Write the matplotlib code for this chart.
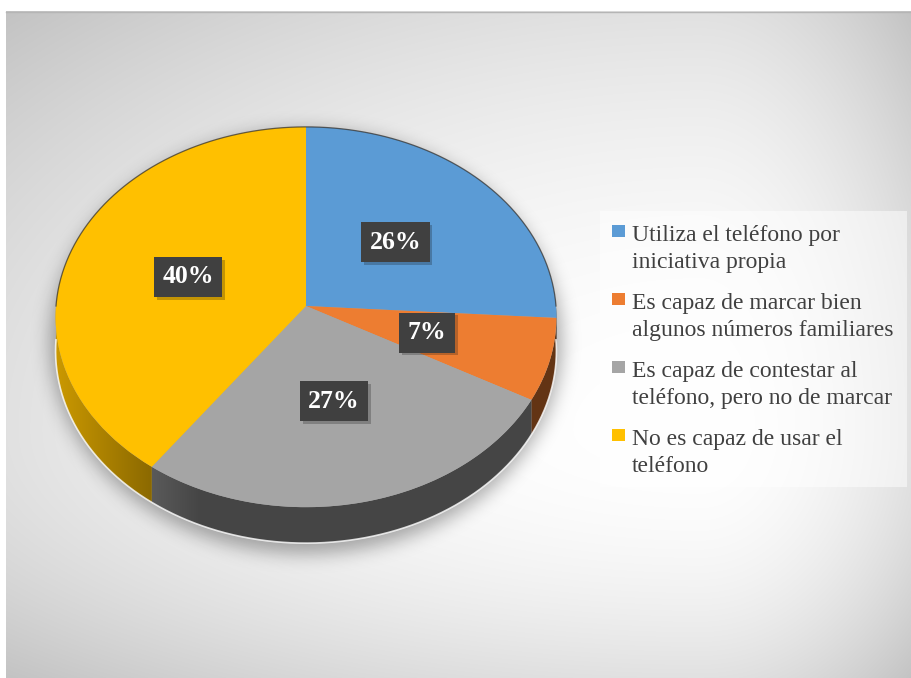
import numpy as np
import matplotlib
matplotlib.use("Agg")
import matplotlib.pyplot as plt
from matplotlib import transforms as mtransforms
from matplotlib.patches import Rectangle, Polygon
import matplotlib.patheffects as pe

categories = [
    "Utiliza el teléfono por\niniciativa propia",
    "Es capaz de marcar bien\nalgunos números familiares",
    "Es capaz de contestar al\nteléfono, pero no de marcar",
    "No es capaz de usar el\nteléfono",
]
values = [26, 7, 27, 40]
colors = ["#5b9bd5", "#ed7d31", "#a5a5a5", "#ffc000"]

W, H = 912, 678
# centre, radii and perspective of the tilted disc (pixel units)
CX, CY = 306, 306
RX, RY = 250, 189.5
K = 0.058
DEPTH = 33.9


class Tilt(mtransforms.Transform):
    """Unit disc -> perspective view in pixel data coords."""
    input_dims = 2
    output_dims = 2
    is_separable = False
    has_inverse = False

    def transform_non_affine(self, values):
        xy = np.asarray(values, float)
        x, y = xy[..., 0], xy[..., 1]
        w = 1 + K * y
        return np.stack([CX + RX * x / w, CY - RY * y / w], axis=-1)


def gauss_blur(img, sigma):
    r = int(3 * sigma)
    k = np.exp(-np.arange(-r, r + 1) ** 2 / (2 * sigma ** 2))
    k /= k.sum()
    out = np.array([np.convolve(row, k, mode="same") for row in img])
    out = np.array([np.convolve(col, k, mode="same") for col in out.T]).T
    return out


fig = plt.figure(figsize=(W / 100, H / 100), dpi=100, facecolor="white")
ax = fig.add_axes([0, 0, 1, 1])

# grey backdrop, brightest right of centre
yy, xx = np.mgrid[11:H, 6:W] + 0.5
nx = np.where(xx < 700, (xx - 700) / 700, (xx - 700) / 215)
ny = np.where(yy < 430, (yy - 430) / 420, (yy - 430) / 250)
val = np.clip(1 - 0.12 * (nx ** 2 + ny ** 2), 0, 1)
ax.imshow(np.dstack([val] * 3), extent=(6, W, H, 11), origin="upper",
          interpolation="bilinear", zorder=0)
ax.plot([6, W], [11.5, 11.5], color="#b5b5b5", lw=1, zorder=0.5)

# soft drop shadow under the pie
sy, sx = np.mgrid[0:H, 0:W] + 0.5
mask = (((sx - 306) / 256) ** 2 + ((sy - 342) / 212) ** 2 <= 1).astype(float)
shadow = np.zeros((H, W, 4))
shadow[..., 3] = 0.32 * gauss_blur(mask, 9)
ax.imshow(shadow, extent=(0, W, H, 0), origin="upper", zorder=1)

# legend panel
ax.add_patch(Rectangle((600, 211), 307, 276, facecolor="white", alpha=0.5,
                       lw=0, zorder=1.5))

wedges, _, autotexts = ax.pie(
    values, colors=colors, startangle=90, counterclock=False,
    autopct=lambda p: f"{p:.0f}%", pctdistance=0.5, radius=1,
    wedgeprops=dict(linewidth=0))

tilt_core = Tilt()
tilt = tilt_core + ax.transData

# rim shading: lighter toward the left end of the pie
px = np.arange(W) + 0.5
rim_shade = 0.42 + 0.38 * np.clip((200 - px) / 145, 0, 1)

# front rim of each slice, a gradient clipped to its outline
for w, c in zip(wedges, colors):
    th = np.linspace(w.theta1, w.theta2, 400)
    th = th[np.sin(np.radians(th)) <= 0]
    if len(th) < 2:
        continue
    ux, uy = np.cos(np.radians(th)), np.sin(np.radians(th))
    top = tilt_core.transform(np.column_stack([ux, uy]))
    drop = DEPTH / (1 + K * uy)
    bot = top + np.column_stack([np.zeros_like(drop), drop])
    outline = Polygon(np.vstack([top, bot[::-1]]), closed=True,
                      facecolor="none", lw=0, transform=ax.transData)
    ax.add_patch(outline)
    base = np.array(matplotlib.colors.to_rgb(c))
    grad = np.clip(base[None, None, :] * rim_shade[None, :, None], 0, 1)
    grad = np.repeat(grad, 2, axis=0)
    im = ax.imshow(grad, extent=(0, W, H, 0), origin="upper",
                   interpolation="bilinear", zorder=3)
    im.set_clip_path(outline)

# light edge along the bottom of the rim
th = np.linspace(180, 360, 300)
ux, uy = np.cos(np.radians(th)), np.sin(np.radians(th))
top = tilt_core.transform(np.column_stack([ux, uy]))
ax.plot(top[:, 0], top[:, 1] + DEPTH / (1 + K * uy), color="white",
        lw=1.2, alpha=0.8, zorder=3.5)

for w in wedges:
    w.set_transform(tilt)
    w.set_zorder(4)

# dark outline along the back edge
th = np.linspace(0, 180, 300)
ax.plot(np.cos(np.radians(th)), np.sin(np.radians(th)), color="#2e2a25",
        lw=0.9, alpha=0.7, transform=tilt, zorder=4.5)

for t in autotexts:
    t.set_transform(tilt)
    t.set(color="white", fontsize=18.5, fontweight="bold",
          family="Liberation Serif", ha="center", va="center", zorder=6)
    t.set_bbox(dict(boxstyle="square,pad=0.33", facecolor="#404040",
                    linewidth=0))
    t.get_bbox_patch().set_path_effects(
        [pe.SimplePatchShadow(offset=(2, -2), alpha=0.25), pe.Normal()])

# legend entries
for i, (lab, c) in enumerate(zip(categories, colors)):
    y0 = 241 + 68 * i
    ax.add_patch(Rectangle((612, y0 - 16), 13, 12, facecolor=c, lw=0, zorder=5))
    for j, line in enumerate(lab.split("\n")):
        ax.text(632, y0 + 26.7 * j, line, fontsize=17, family="Liberation Serif",
                color="#404040", ha="left", va="baseline", zorder=5)

ax.set_aspect("auto")
ax.set_xlim(0, W)
ax.set_ylim(H, 0)
ax.axis("off")

fig.savefig("out.png", dpi=100, facecolor="white")
